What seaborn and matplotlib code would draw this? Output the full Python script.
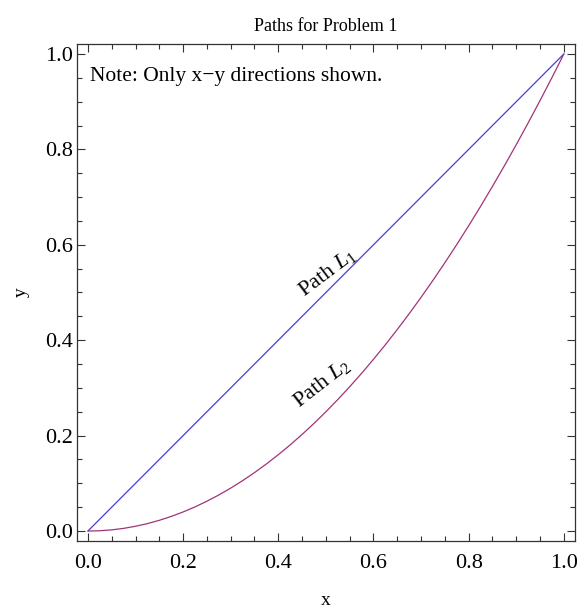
import numpy as np
import pandas as pd
import matplotlib.pyplot as plt
import seaborn as sns
from matplotlib.ticker import MultipleLocator

# values
x_vals = [0.0, 0.025, 0.05, 0.075, 0.1, 0.125, 0.15, 0.175, 0.2, 0.225,
          0.25, 0.275, 0.3, 0.325, 0.35, 0.375, 0.4, 0.425, 0.45, 0.475,
          0.5, 0.525, 0.55, 0.575, 0.6, 0.625, 0.65, 0.675, 0.7, 0.725,
          0.75, 0.775, 0.8, 0.825, 0.85, 0.875, 0.9, 0.925, 0.95, 0.975, 1.0]
path1_y = list(x_vals)  # straight diagonal path
path2_y = [0.0, 0.0006, 0.0025, 0.0056, 0.01, 0.0156, 0.0225, 0.0306, 0.04, 0.0506,
           0.0625, 0.0756, 0.09, 0.1056, 0.1225, 0.1406, 0.16, 0.1806, 0.2025, 0.2256,
           0.25, 0.2756, 0.3025, 0.3306, 0.36, 0.3906, 0.4225, 0.4556, 0.49, 0.5256,
           0.5625, 0.6006, 0.64, 0.6806, 0.7225, 0.7656, 0.81, 0.8556, 0.9025, 0.9506, 1.0]
tick_vals = [0.0, 0.2, 0.4, 0.6, 0.8, 1.0]

df = pd.DataFrame({"x": x_vals + x_vals,
                   "y": path1_y + path2_y,
                   "path": ["L1"] * len(x_vals) + ["L2"] * len(x_vals)})

sns.set_style("ticks")
plt.rcParams['font.family'] = ['Liberation Serif', 'DejaVu Serif']
plt.rcParams['mathtext.fontset'] = 'custom'
plt.rcParams['mathtext.rm'] = 'Liberation Serif'
plt.rcParams['mathtext.it'] = 'Liberation Serif:italic'
plt.rcParams['text.color'] = 'black'
plt.rcParams['axes.labelcolor'] = 'black'

fig = plt.figure(figsize=(5.83, 6.10), dpi=100)
ax = fig.add_axes([0.132, 0.113, 0.854, 0.815])

sns.lineplot(data=df, x="x", y="y", hue="path", estimator=None, sort=False,
             palette={"L1": "#4040d8", "L2": "#a03478"}, linewidth=0.9,
             legend=False, ax=ax)

ax.set_xlim(-0.023, 1.023)
ax.set_ylim(-0.021, 1.021)
ax.set_xticks(tick_vals)
ax.set_yticks(tick_vals)
ax.set_xticklabels([f"{t:.1f}" for t in tick_vals])
ax.set_yticklabels([f"{t:.1f}" for t in tick_vals])
ax.xaxis.set_minor_locator(MultipleLocator(0.05))
ax.yaxis.set_minor_locator(MultipleLocator(0.05))
ax.tick_params(which="both", direction="in", top=True, right=True,
               labelsize=16, width=0.8, color="#333333", labelcolor="black")
ax.tick_params(which="major", length=6)
ax.tick_params(which="minor", length=3.5)
ax.tick_params(axis="x", which="major", pad=9)
ax.tick_params(axis="y", which="major", pad=3)
for s in ax.spines.values():
    s.set_linewidth(0.9)
    s.set_color("#333333")

ax.set_xlabel("x", fontsize=14, labelpad=14)
ax.set_ylabel("y", fontsize=14, labelpad=11)
ax.set_title("Paths for Problem 1", fontsize=13, pad=9, color="black")

ax.text(0.004, 0.953, "Note: Only x\u2212y directions shown.", fontsize=15.5,
        ha="left", va="center")
ax.text(0.502, 0.541, "Path $L_1$", fontsize=16, rotation=37,
        ha="center", va="center", rotation_mode="anchor")
ax.text(0.492, 0.31, "Path $L_2$", fontsize=16, rotation=38,
        ha="center", va="center", rotation_mode="anchor")

fig.savefig("out.png", dpi=100)
